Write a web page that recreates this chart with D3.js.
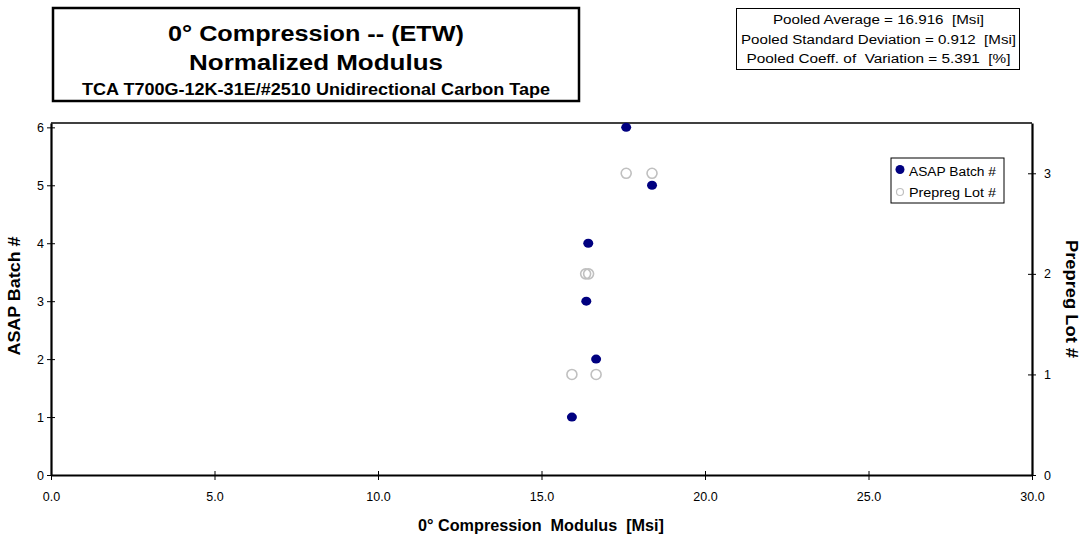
<!DOCTYPE html>
<html>
<head>
<meta charset="utf-8">
<script src="https://cdn.jsdelivr.net/npm/d3@7"></script>
<style>
  body { margin: 0; background: #fff; }
  text { font-family: "Liberation Sans", Arial, sans-serif; fill: #000; }
</style>
</head>
<body>
<div id="chart"></div>
<script>
var svgWidth = 1089;
var svgHeight = 542;

// plot area edges
var margin = { top: 123, right: 57, bottom: 67, left: 51 };
var width = svgWidth - margin.left - margin.right;
var height = svgHeight - margin.top - margin.bottom;

// data
var batchModulus = [15.93, 16.67, 16.37, 16.43, 18.38, 17.59];
var batchNumber = [1, 2, 3, 4, 5, 6];
var lotModulus = [15.93, 16.67, 16.35, 16.44, 17.59, 18.38];
var lotNumber = [1, 1, 2, 2, 3, 3];
var xTicks = [0, 5, 10, 15, 20, 25, 30];
var leftTicks = [0, 1, 2, 3, 4, 5, 6];
var rightTicks = [0, 1, 2, 3];
var statLines = [
  "Pooled Average = 16.916  [Msi]",
  "Pooled Standard Deviation = 0.912  [Msi]",
  "Pooled Coeff. of  Variation = 5.391  [%]"
];
var titleLines = ["0\u00b0 Compression -- (ETW)", "Normalized Modulus"];
var subTitle = "TCA T700G-12K-31E/#2510 Unidirectional Carbon Tape";

// widths the text takes in the picture (its font is drawn wide)
var statWidths = [211, 275, 264];
var titleWidths = [296, 254];

var svg = d3.select("#chart").append("svg")
    .attr("width", svgWidth)
    .attr("height", svgHeight);

var chartGroup = svg.append("g")
    .attr("transform", `translate(${margin.left}, ${margin.top})`);

var xScale = d3.scaleLinear().domain([0, 30]).range([0, width]);
var yLeft = d3.scaleLinear().domain([0, 6.075]).range([height, 0]);
var yRight = d3.scaleLinear().domain([0, 3.5]).range([height, 0]);

// top border
chartGroup.append("line")
    .attr("x1", 0).attr("x2", width)
    .attr("y1", 0).attr("y2", 0)
    .attr("stroke", "#000").attr("stroke-width", 1.5);

function styleAxis(g) {
  g.select(".domain").attr("stroke-width", 2.2);
  g.selectAll(".tick line").attr("stroke-width", 1);
  g.selectAll(".tick text").attr("font-size", "12.5px")
    .attr("font-family", "Liberation Sans, Arial, sans-serif");
}

var bottomAxis = d3.axisBottom(xScale).tickValues(xTicks)
    .tickFormat(d3.format(".1f")).tickSizeInner(5).tickSizeOuter(0).tickPadding(12);
var xAxis = chartGroup.append("g")
    .attr("transform", `translate(0, ${height})`)
    .call(bottomAxis)
    .call(styleAxis);
xAxis.selectAll(".tick line").attr("y1", -4);

var leftAxis = d3.axisLeft(yLeft).tickValues(leftTicks)
    .tickFormat(d3.format("d")).tickSizeInner(4).tickSizeOuter(0).tickPadding(3);
var yAxisL = chartGroup.append("g").call(leftAxis).call(styleAxis);
yAxisL.selectAll(".tick line").attr("x2", 4).attr("x1", -4);

var rightAxis = d3.axisRight(yRight).tickValues(rightTicks)
    .tickFormat(d3.format("d")).tickSizeInner(4).tickSizeOuter(0).tickPadding(8);
var yAxisR = chartGroup.append("g")
    .attr("transform", `translate(${width}, 0)`)
    .call(rightAxis).call(styleAxis);
yAxisR.selectAll(".tick line").attr("x1", -4).attr("x2", 4);

// prepreg lot points (right axis)
chartGroup.selectAll(".lot")
    .data(lotModulus)
    .enter()
    .append("circle")
    .attr("class", "lot")
    .attr("cx", d => xScale(d))
    .attr("cy", (d, i) => yRight(lotNumber[i]))
    .attr("r", 5)
    .attr("fill", "none")
    .attr("stroke", "#c0c0c0")
    .attr("stroke-width", 1.6);

// batch points (left axis)
chartGroup.selectAll(".batch")
    .data(batchModulus)
    .enter()
    .append("ellipse")
    .attr("class", "batch")
    .attr("cx", d => xScale(d))
    .attr("cy", (d, i) => yLeft(batchNumber[i]))
    .attr("rx", 5)
    .attr("ry", 4.5)
    .attr("fill", "#000080");

// axis titles
svg.append("text")
    .attr("transform", "translate(541, 531)")
    .attr("text-anchor", "middle")
    .attr("font-size", "16px").attr("font-weight", "bold")
    .attr("textLength", 246).attr("lengthAdjust", "spacingAndGlyphs")
    .style("white-space", "pre")
    .text("0\u00b0 Compression  Modulus  [Msi]");

svg.append("text")
    .attr("transform", "translate(20, 296) rotate(-90)")
    .attr("text-anchor", "middle")
    .attr("font-size", "16px").attr("font-weight", "bold")
    .attr("textLength", 119).attr("lengthAdjust", "spacingAndGlyphs")
    .text("ASAP Batch #");

svg.append("text")
    .attr("transform", "translate(1066, 299) rotate(90)")
    .attr("text-anchor", "middle")
    .attr("font-size", "16px").attr("font-weight", "bold")
    .attr("textLength", 118).attr("lengthAdjust", "spacingAndGlyphs")
    .text("Prepreg Lot #");

// legend
var legend = svg.append("g").attr("transform", "translate(891, 158)");
legend.append("rect")
    .attr("width", 113).attr("height", 45)
    .attr("fill", "#fff").attr("stroke", "#000").attr("stroke-width", 1);
legend.append("ellipse")
    .attr("cx", 9).attr("cy", 11.5).attr("rx", 4.5).attr("ry", 4.5)
    .attr("fill", "#000080");
legend.append("circle")
    .attr("cx", 9).attr("cy", 34).attr("r", 3.5)
    .attr("fill", "none").attr("stroke", "#c0c0c0").attr("stroke-width", 1.2);
legend.append("text").attr("x", 18).attr("y", 18)
    .attr("font-size", "12.5px")
    .attr("textLength", 87).attr("lengthAdjust", "spacingAndGlyphs")
    .text("ASAP Batch #");
legend.append("text").attr("x", 18).attr("y", 39)
    .attr("font-size", "12.5px")
    .attr("textLength", 87).attr("lengthAdjust", "spacingAndGlyphs")
    .text("Prepreg Lot #");

// title box
var titleBox = svg.append("g");
titleBox.append("rect")
    .attr("x", 53).attr("y", 8).attr("width", 526).attr("height", 93)
    .attr("fill", "#fff").attr("stroke", "#000").attr("stroke-width", 2.5);
titleBox.selectAll(".tline")
    .data(titleLines)
    .enter()
    .append("text")
    .attr("class", "tline")
    .attr("x", 316)
    .attr("y", (d, i) => 41 + i * 29)
    .attr("text-anchor", "middle")
    .attr("font-size", "22px").attr("font-weight", "bold")
    .attr("textLength", (d, i) => titleWidths[i]).attr("lengthAdjust", "spacingAndGlyphs")
    .text(d => d);
titleBox.append("text")
    .attr("x", 316).attr("y", 95)
    .attr("text-anchor", "middle")
    .attr("font-size", "16px").attr("font-weight", "bold")
    .attr("textLength", 468).attr("lengthAdjust", "spacingAndGlyphs")
    .text(subTitle);

// stats box
var statBox = svg.append("g");
statBox.append("rect")
    .attr("x", 736.5).attr("y", 8.5).attr("width", 283).attr("height", 61)
    .attr("fill", "#fff").attr("stroke", "#000").attr("stroke-width", 1);
statBox.selectAll(".sline")
    .data(statLines)
    .enter()
    .append("text")
    .attr("class", "sline")
    .attr("x", 878.5)
    .attr("y", (d, i) => 24 + i * 19.5)
    .attr("text-anchor", "middle")
    .attr("font-size", "12.5px")
    .attr("textLength", (d, i) => statWidths[i]).attr("lengthAdjust", "spacingAndGlyphs")
    .style("white-space", "pre")
    .text(d => d);
</script>
</body>
</html>
